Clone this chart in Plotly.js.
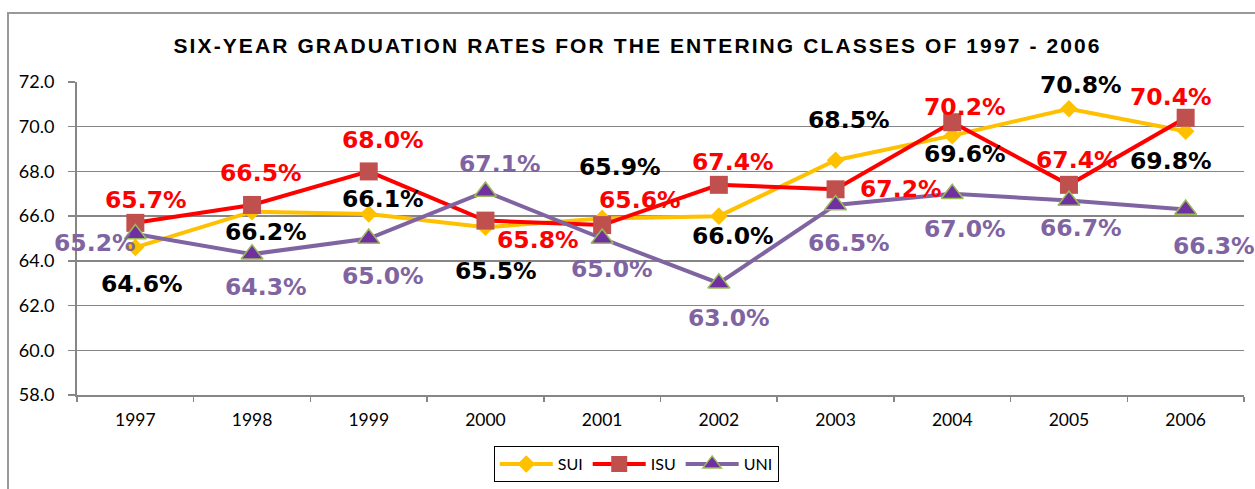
<!DOCTYPE html>
<html><head><meta charset="utf-8">
<script src="https://cdn.plot.ly/plotly-3.0.1.min.js"></script>
<style>html,body{margin:0;padding:0;background:#fff}#chart{width:1255px;height:489px}
.gtitle{letter-spacing:2.1px}</style>
</head><body><div id="chart"></div>
<script>
const years = ['1997','1998','1999','2000','2001','2002','2003','2004','2005','2006'];
const sui = [64.6, 66.2, 66.1, 65.5, 65.9, 66.0, 68.5, 69.6, 70.8, 69.8];
const isu = [65.7, 66.5, 68.0, 65.8, 65.6, 67.4, 67.2, 70.2, 67.4, 70.4];
const uni = [65.2, 64.3, 65.0, 67.1, 65.0, 63.0, 66.5, 67.0, 66.7, 66.3];
const yTicks = [58, 60, 62, 64, 66, 68, 70, 72];

// label offsets from each point, in pixels [dx, dy] (screen: +dy = down)
const suiOff = [[7,37],[14,20],[14,-15],[11,44],[18,-51],[14,20],[13,-40],[13,18],[12,-24],[-15,30]];
const isuOff = [[11,-23],[9,-32],[14,-31],[53,19],[38,-25],[14,-23],[65,0],[13,-15],[8,-25],[-15,-21]];
const uniOff = [[-40,9],[14,33],[14,37],[15,-28],[10,30],[10,35],[13,38],[13,35],[12,28],[28,37]];

const TICKFONT = 'Lato, Carlito, sans-serif';
const LABELFONT = 'DejaVu Sans, Liberation Sans, sans-serif';

function labels(vals, offs, color) {
  return vals.map((v, i) => ({
    x: i, y: v, xref: 'x', yref: 'y',
    text: '<b>' + v.toFixed(1) + '%</b>', showarrow: false,
    xshift: offs[i][0], yshift: -offs[i][1],
    font: {family: LABELFONT, size: 23.5, color: color}
  }));
}

const traces = [
  {x: years, y: sui, name: 'SUI', mode: 'lines+markers', type: 'scatter',
   line: {color: '#FFC000', width: 4},
   marker: {symbol: 'diamond', size: 13.5, color: '#FFC000'}},
  {x: years, y: isu, name: 'ISU', mode: 'lines+markers', type: 'scatter',
   line: {color: '#FF0000', width: 4},
   marker: {symbol: 'square', size: 18, color: '#C0504D'}},
  {x: years, y: uni, name: 'UNI', mode: 'lines+markers', type: 'scatter',
   line: {color: '#8064A2', width: 4},
   marker: {symbol: 'triangle-up', size: 19, color: '#7030A0', line: {color: '#9BBB59', width: 1.5}}}
];

const anns = [].concat(labels(sui, suiOff, '#000000'), labels(isu, isuOff, '#FF0000'), labels(uni, uniOff, '#8064A2'));

const layout = {
  width: 1255, height: 489,
  margin: {l: 77, r: 11, t: 82, b: 94},
  paper_bgcolor: '#fff', plot_bgcolor: '#fff',
  font: {family: TICKFONT, color: '#000'},
  title: {text: 'SIX-YEAR GRADUATION RATES FOR THE ENTERING CLASSES OF 1997 - 2006',
          x: 0.508, xref: 'container', xanchor: 'center', y: 0.907, yref: 'container', yanchor: 'middle',
          font: {family: 'Arial, Liberation Sans, sans-serif', size: 21, color: '#000', weight: 'bold'}},
  xaxis: {type: 'category', range: [-0.5, 9.5], showline: true, linecolor: '#868686', linewidth: 2,
          ticks: 'outside', tickson: 'boundaries', ticklen: 5, tickcolor: '#868686', tickwidth: 1.5,
          showgrid: false, zeroline: false, tickfont: {family: TICKFONT, size: 17.5},
          ticklabelstandoff: 8},
  yaxis: {range: [58, 72], tickvals: yTicks, ticktext: yTicks.map(v => v.toFixed(1)),
          showline: true, linecolor: '#868686', linewidth: 2, ticks: 'outside', ticklen: 7,
          tickcolor: '#868686', tickwidth: 1.5, gridcolor: '#868686', gridwidth: 1.5,
          zeroline: false, tickfont: {family: TICKFONT, size: 18}, ticklabelstandoff: 10},
  showlegend: true,
  legend: {orientation: 'h', x: 0.507, xref: 'container', xanchor: 'center', y: 0.0143, yref: 'container', yanchor: 'bottom',
           bordercolor: '#000', borderwidth: 1, font: {family: TICKFONT, size: 16}, itemwidth: 53,
           bgcolor: '#fff'},
  shapes: [{type: 'rect', xref: 'paper', yref: 'paper',
            x0: (8 - 77) / 1167, x1: (1260 - 77) / 1167,
            y0: (395 - 500) / 313, y1: (395 - 13) / 313,
            line: {color: '#999999', width: 2}, layer: 'below'}],
  annotations: anns
};

Plotly.newPlot('chart', traces, layout, {staticPlot: true, displayModeBar: false});
</script></body></html>
